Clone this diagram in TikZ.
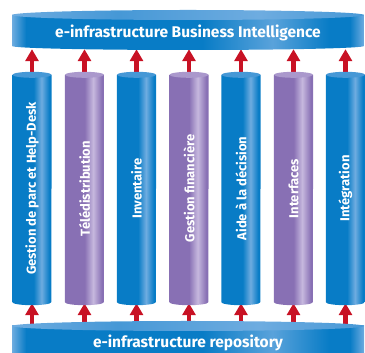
\documentclass[tikz,border=0pt]{standalone}
\usepackage{fontspec}
\setmainfont{Fira Sans}
\usetikzlibrary{arrows.meta,calc}
\definecolor{bD}{RGB}{8,124,198}
\definecolor{bL}{RGB}{110,172,224}
\definecolor{bCap}{RGB}{70,152,214}
\definecolor{pD}{RGB}{136,112,180}
\definecolor{pL}{RGB}{198,184,222}
\definecolor{pCap}{RGB}{170,152,204}
\definecolor{arr}{RGB}{200,18,36}
\pgfdeclarehorizontalshading{bluecyl}{100bp}{color(0bp)=(bD); color(25bp)=(bD); color(52bp)=(bD); color(62bp)=(bL); color(72bp)=(bD); color(100bp)=(bD)}
\pgfdeclarehorizontalshading{purpcyl}{100bp}{color(0bp)=(pD); color(25bp)=(pD); color(50bp)=(pD); color(61bp)=(pL); color(72bp)=(pD); color(100bp)=(pD)}
\pgfdeclarehorizontalshading{diskbody}{100bp}{color(0bp)=(bL); color(25bp)=(bL); color(27bp)=(bD); color(52bp)=(bD); color(62bp)=(bL!80!bD); color(70bp)=(bD); color(73bp)=(bD); color(75bp)=(bL); color(100bp)=(bL)}
\pgfdeclarehorizontalshading{diskcap}{100bp}{color(0bp)=(bL); color(25bp)=(bL); color(40bp)=(bCap); color(60bp)=(bL); color(75bp)=(bCap); color(100bp)=(bCap)}
\tikzset{
  colbox/.style={minimum width=39pt,minimum height=233pt,inner sep=0pt,text=white,font=\bfseries\fontsize{13}{15}\selectfont},
  diskbox/.style={minimum width=352pt,inner sep=0pt,text=white,font=\bfseries\fontsize{15.5}{17}\selectfont},
  uparrow/.style={draw=arr,line width=4.5pt,-{Triangle[width=13pt,length=12pt]}}
}
\newcommand{\cyl}[2]{% node name, shading
  \path[shading=#2] ($(#1.north west)+(0,-3pt)$) -- ($(#1.south west)+(0,3pt)$)
    arc[start angle=180,end angle=360,x radius=19.5pt,y radius=3pt]
    -- ($(#1.north east)+(0,-3pt)$) -- cycle;
}
\begin{document}
\begin{tikzpicture}[x=1pt,y=1pt]
\useasboundingbox (0,0) rectangle (365,353);
\node[diskbox,minimum height=36pt] (bi) at (188,322) {};
\node[diskbox,minimum height=24pt] (repo) at (188,16) {};
\foreach \i/\x in {1/32,2/84.5,3/136.5,4/189,5/241,6/293.5,7/345.5}{
  \node[colbox] (c\i) at (\x,164.5) {};
}
% arrows
\foreach \i in {1,...,7}{
  \draw[uparrow] (c\i.north) -- (c\i.north |- bi.south);
  \draw[uparrow,shorten >=-2pt] (c\i.south |- repo.north) -- (c\i.south);
}
% top disk
\path[shading=diskbody] (12,338) -- (12,307) arc[start angle=180,end angle=360,x radius=176,y radius=4] -- (364,338) -- cycle;
\path[shading=diskcap] (188,338) ellipse[x radius=176,y radius=5];
% bottom disk
\path[shading=diskbody] (12,27) -- (12,-10) -- (364,-10) -- (364,27) -- cycle;
\path[shading=diskcap] (188,27) ellipse[x radius=176,y radius=5];
% columns
\foreach \i/\s/\c in {1/bluecyl/bCap,2/purpcyl/pCap,3/bluecyl/bCap,4/purpcyl/pCap,5/bluecyl/bCap,6/purpcyl/pCap,7/bluecyl/bCap}{
  \cyl{c\i}{\s}
  \fill[\c] ($(c\i.north)+(0,-3pt)$) ellipse[x radius=19.5,y radius=3];
}
\node[diskbox] at ($(bi)+(0,-2)$) {e-infrastructure Business Intelligence};
\node[diskbox] at ($(repo)+(0,-6)$) {e-infrastructure repository};
\foreach \i/\t in {1/Gestion de parc et Help-Desk,2/Télédistribution,3/Inventaire,4/Gestion financière,5/Aide à la décision,6/Interfaces,7/Intégration}{
  \node[colbox,minimum width=0pt,minimum height=0pt] at ($(c\i)+(0,0)$) {\rotatebox{90}{\t}};
}
\end{tikzpicture}
\end{document}
